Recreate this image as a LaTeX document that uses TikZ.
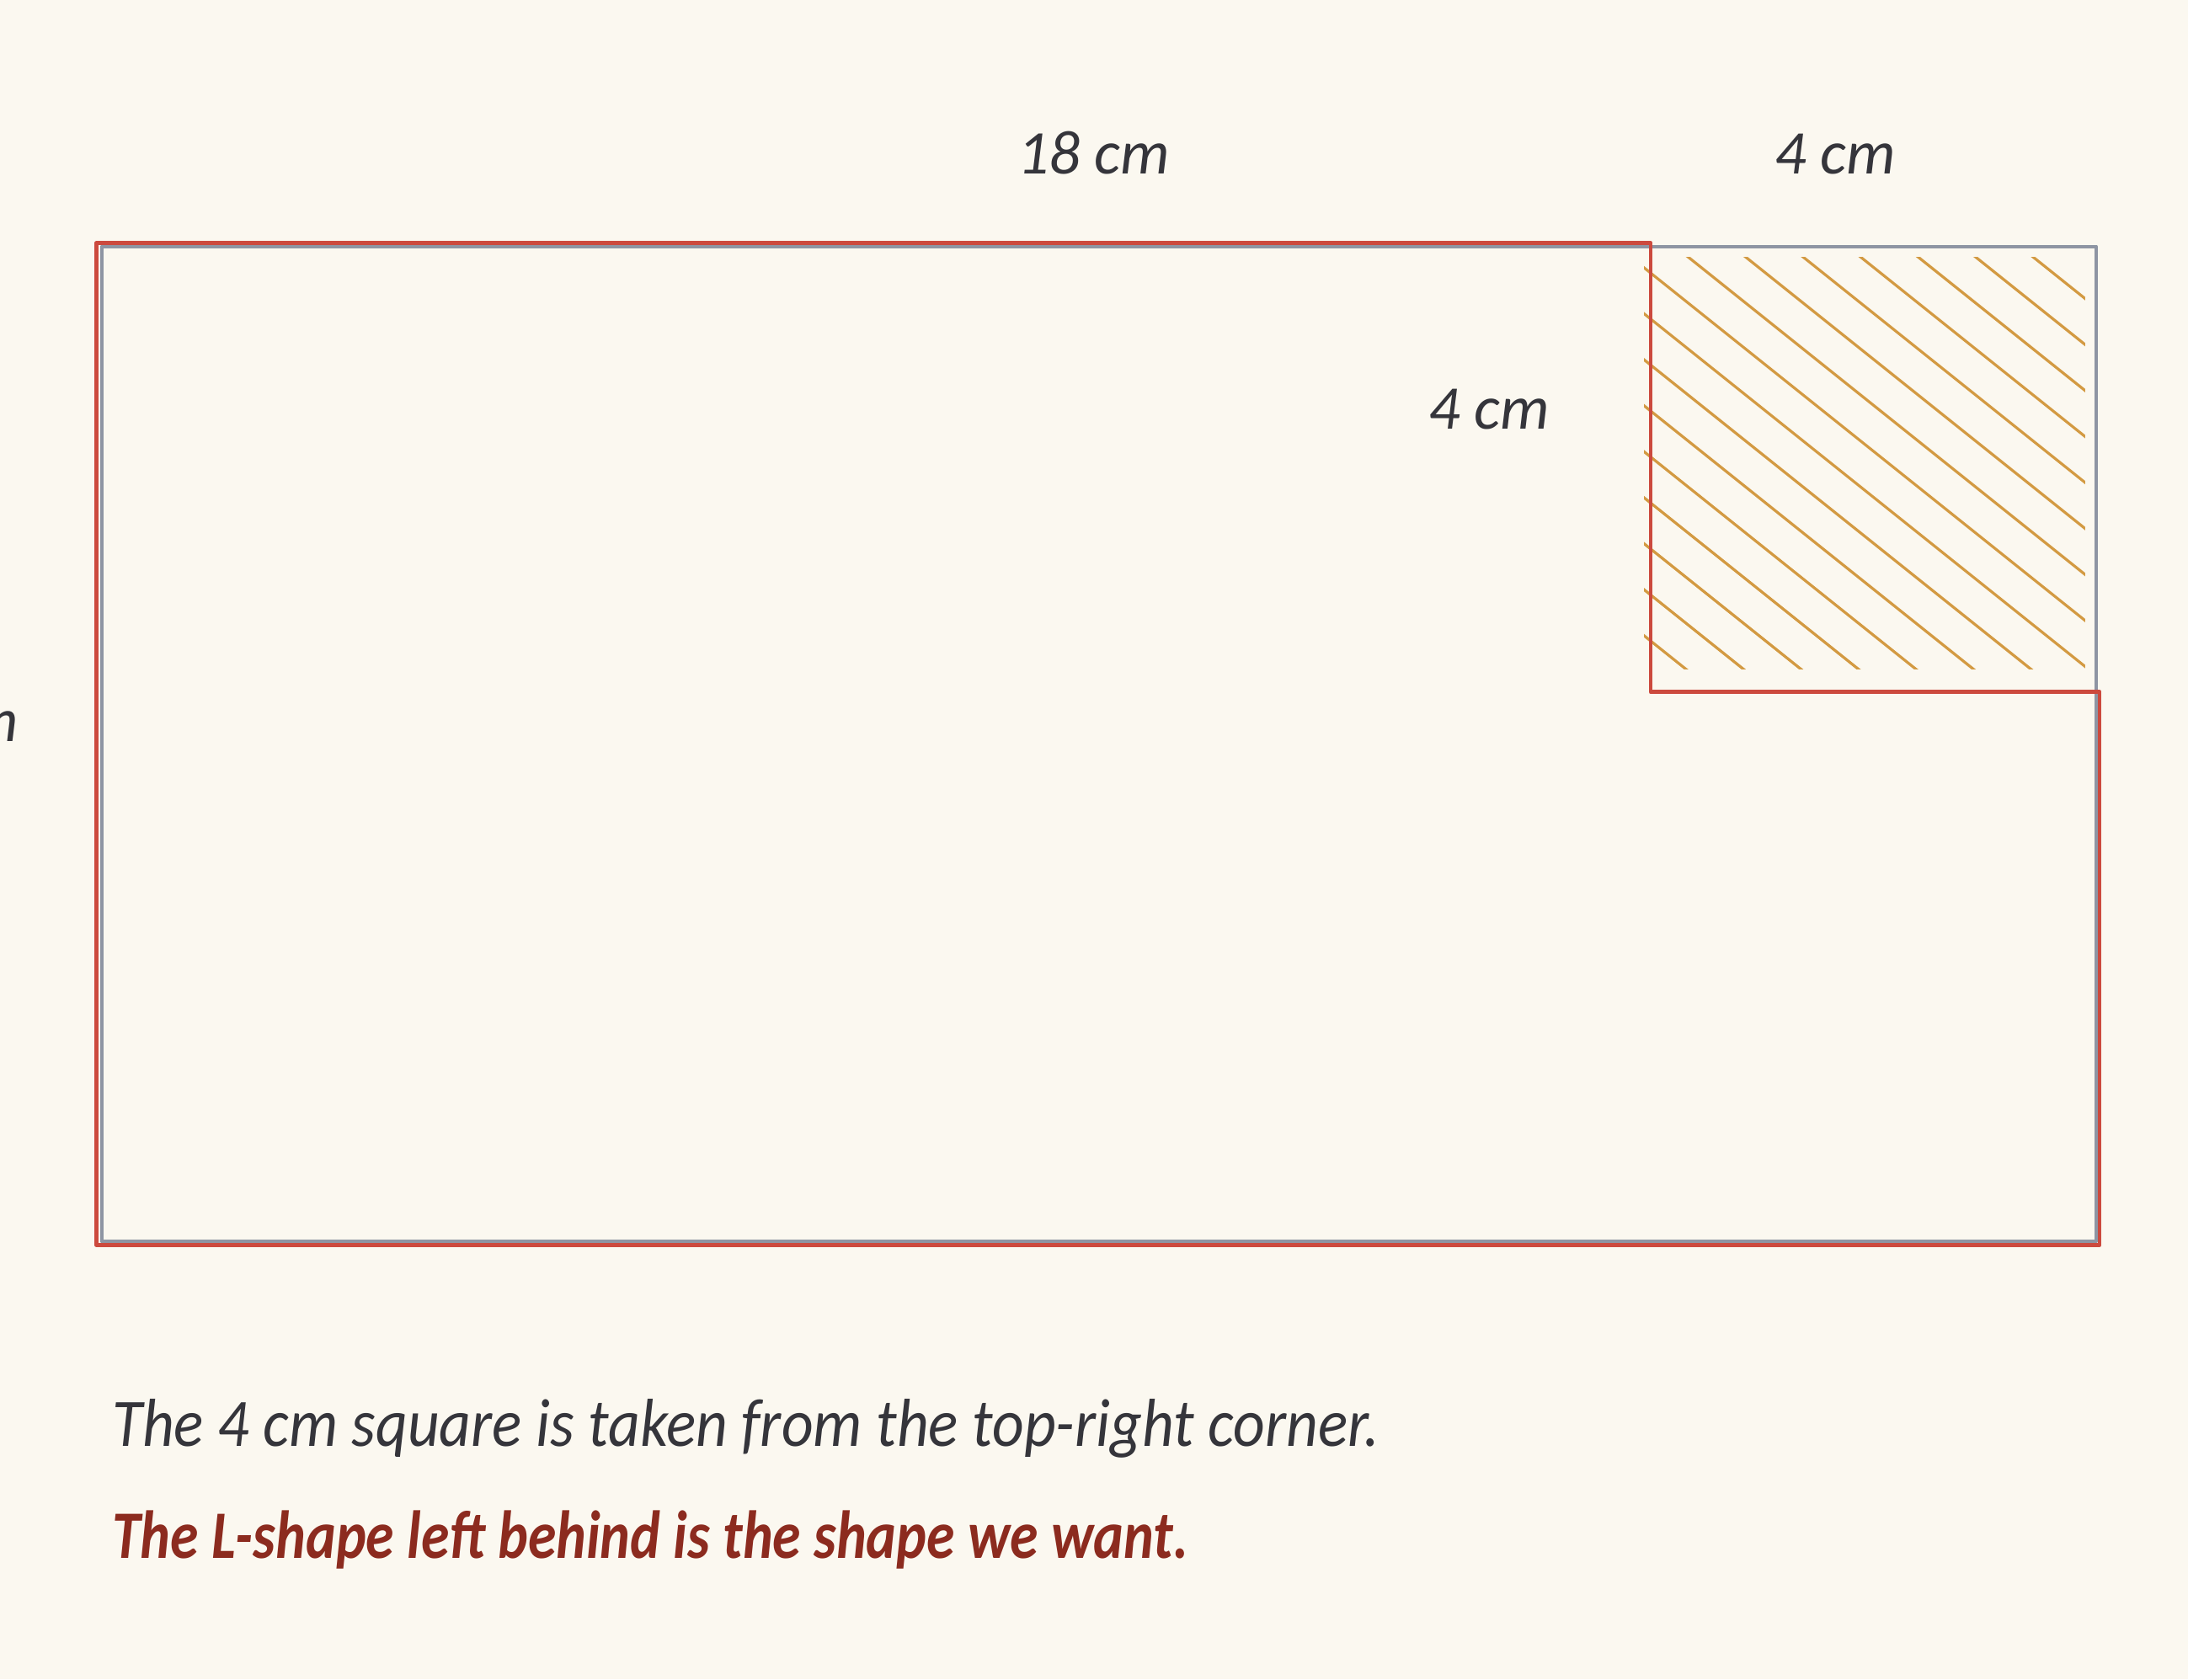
\documentclass[tikz,border=0pt]{standalone}
\usepackage{fontspec}
\setmainfont{Carlito}

\definecolor{paper}{HTML}{FBF8F0}
\definecolor{ink}{HTML}{35353B}
\definecolor{pencilRed}{HTML}{CC4A3E}
\definecolor{pencilGrey}{HTML}{8E95A3}
\definecolor{hatchOrange}{HTML}{D39A42}
\definecolor{noteRed}{HTML}{8C2B1F}

\begin{document}
\begin{tikzpicture}[line cap=round, line join=round,
		dimLabel/.style={font=\fontsize{16}{19}\selectfont\itshape, text=ink, inner sep=0pt},
		noteText/.style={font=\fontsize{17.5}{21}\selectfont\itshape, text=ink, inner sep=0pt, anchor=base west},
		greyPencil/.style={pencilGrey, line width=0.9pt},
		redPencil/.style={pencilRed, line width=1.05pt},
		hatchLine/.style={hatchOrange, line width=0.7pt}]
	
	% paper and page size
	\fill[paper] (0,0) rectangle (19.79,15.19);
	\useasboundingbox (0,0) rectangle (19.79,15.19);
	
	% corners of the big rectangle and of the cut square
	\coordinate (bl) at (0.92,3.96);
	\coordinate (tr) at (18.96,12.96);
	\coordinate (sqbl) at (14.96,8.96);
	
	% hatch the square taken away
	\begin{scope}
		\clip (14.87,9.14) rectangle (18.86,12.86);
		\foreach \k in {0,...,17}
		\draw[hatchLine] (9.95+0.52*\k,12.96) -- ++(6,-4.8);
	\end{scope}
	
	% whole rectangle in grey pencil
	\draw[greyPencil] (bl) rectangle (tr);
	
	% the L-shape in red pencil, just outside
	\draw[redPencil] (0.87,3.93) -- (0.87,12.99) -- (14.93,12.99) -- (14.93,8.93)
	-- (18.99,8.93) -- (18.99,3.93) -- cycle;
	
	% lengths
	\node[dimLabel, anchor=base] (topLen) at (9.89,13.62) {18 cm};
	\node[dimLabel, anchor=base] (sqTopLen) at (16.6,13.62) {4 cm};
	\node[dimLabel, anchor=base] (sqSideLen) at (13.47,11.31) {4 cm};
	\node[dimLabel, anchor=base east] (leftLen) at (0.17,8.48) {9 cm};
	
	% notes below
	\node[noteText, xscale=0.91] (noteCut) at (1.01,2.11) {The 4 cm square is taken from the top-right corner.};
	\node[noteText, xscale=0.84, text=noteRed, font=\fontsize{17.5}{21}\selectfont\itshape\bfseries] (noteKeep) at (1.01,1.09) {The L-shape left behind is the shape we want.};
\end{tikzpicture}
\end{document}
